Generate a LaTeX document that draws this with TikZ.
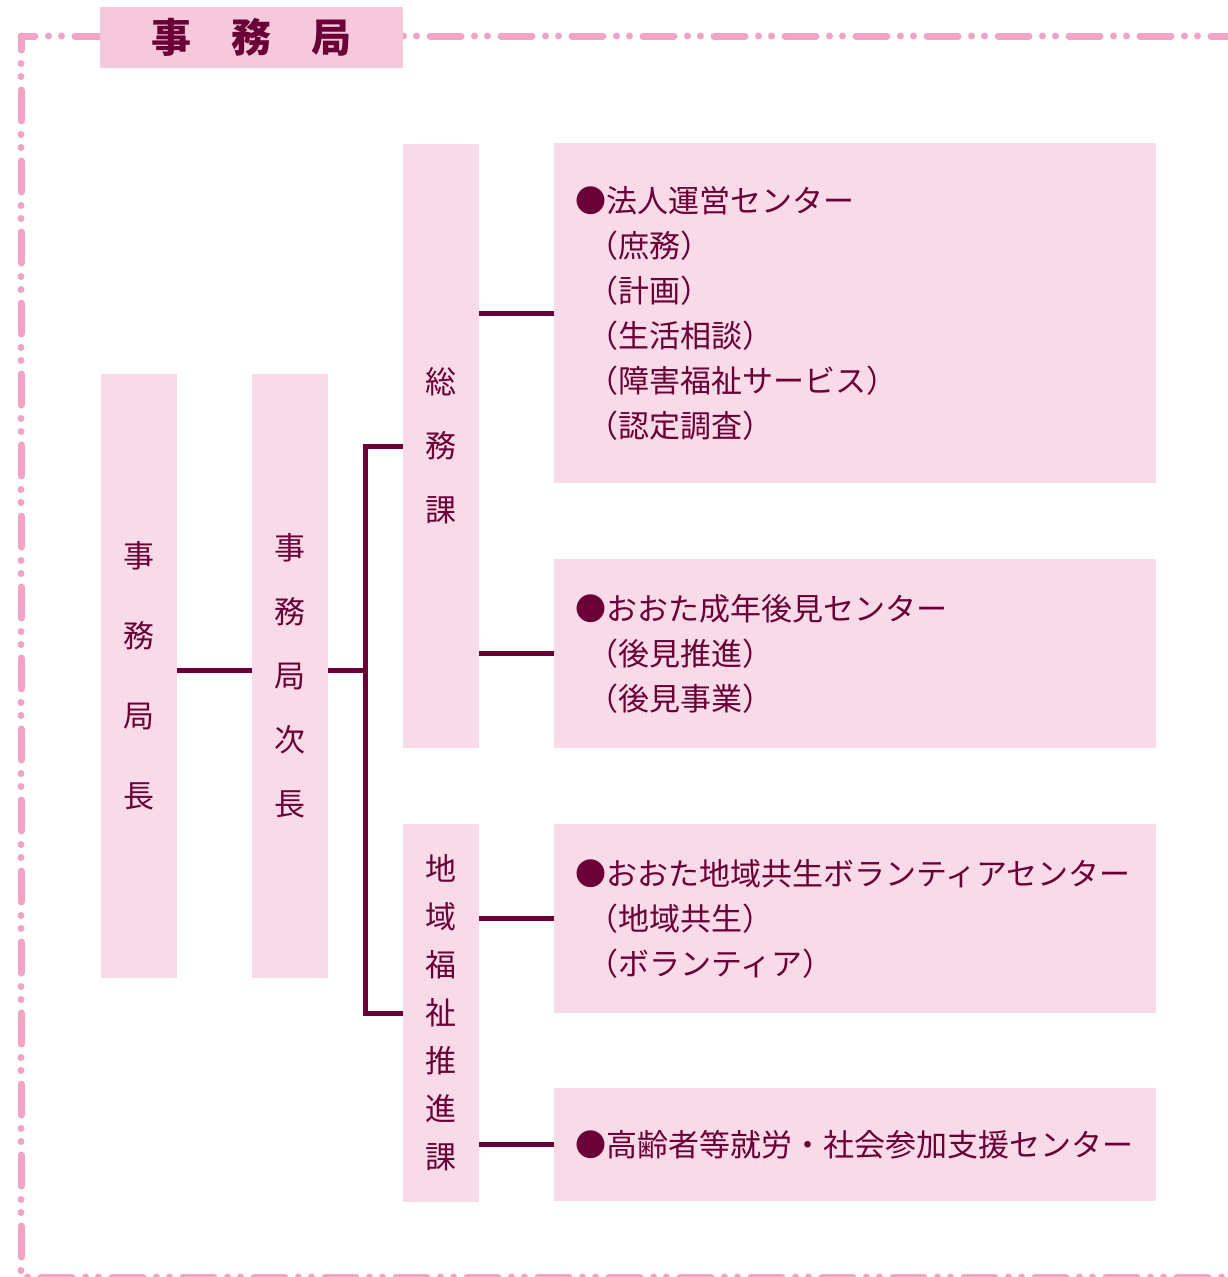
\documentclass[tikz,border=0pt]{standalone}
\usepackage{fontspec}
\setmainfont{Noto Sans CJK JP}
\definecolor{ink}{HTML}{6A0035}
\definecolor{usupink}{HTML}{F9DAE9}
\definecolor{koipink}{HTML}{F5C8DC}
\definecolor{tensen}{HTML}{F2A3C6}
\newcommand{\ind}{\hspace*{12pt}}
\tikzset{
  tate/.style={fill=usupink,text=ink,minimum width=76pt,minimum height=#1,inner sep=0pt,align=center},
  waku/.style={fill=usupink,text=ink,text width=560pt,inner xsep=21pt,inner ysep=0pt,align=left,minimum height=#1,font=\fontsize{31}{45}\selectfont},
  sen/.style={draw=ink,line width=5pt},
  kakomi/.style={draw=tensen,line width=7pt,line cap=round,dash pattern=on 31pt off 13.5pt on 0pt off 13pt on 0pt off 13.5pt,dash phase=17pt}
}
\begin{document}
\begin{tikzpicture}[x=1pt,y=-1pt]
\useasboundingbox (0,0) rectangle (1227,1277);
% outer frame
\draw[kakomi] (21,36) -- (1245,36);
\draw[kakomi] (21,36) -- (21,1277) -- (1245,1277);
\node[fill=koipink,text=ink,minimum width=303pt,minimum height=61pt,inner sep=0pt,font=\fontsize{40}{40}\selectfont\bfseries] (title) at (251.5,37.5) {事　務　局};
% vertical boxes
\node[tate=604pt,font=\fontsize{31}{80}\selectfont] (kyokucho) at (139,676) {事\\務\\局\\長};
\node[tate=604pt,font=\fontsize{31}{64}\selectfont] (jicho) at (290,676) {事\\務\\局\\次\\長};
\node[tate=604pt,font=\fontsize{31}{64}\selectfont] (somu) at (441,446) {総\\務\\課};
\node[tate=378pt,font=\fontsize{31}{48}\selectfont] (chiiki) at (441,1013) {地\\域\\福\\祉\\推\\進\\課};
% centers
\node[waku=340pt] (hojin) at (855,313) {●法人運営センター\\\ind（庶務）\\\ind（計画）\\\ind（生活相談）\\\ind（障害福祉サービス）\\\ind（認定調査）};
\node[waku=189pt] (kouken) at (855,653.5) {●おおた成年後見センター\\\ind（後見推進）\\\ind（後見事業）};
\node[waku=189pt] (kyosei) at (855,918.5) {●おおた地域共生ボランティアセンター\\\ind（地域共生）\\\ind（ボランティア）};
\node[waku=113pt] (shuro) at (855,1144.5) {●高齢者等就労・社会参加支援センター};
% lines
\coordinate (bunki) at (365,670);
\draw[sen] (kyokucho.east |- bunki) -- (jicho.west |- bunki);
\draw[sen] (jicho.east |- bunki) -- (bunki);
\draw[sen] (somu.west) -- (somu.west -| bunki) -- (chiiki.west -| bunki) -- (chiiki.west);
\foreach \ka/\ce in {somu/hojin,somu/kouken,chiiki/kyosei,chiiki/shuro}
  \draw[sen] (\ce.west) -- (\ce.west -| \ka.east);
\end{tikzpicture}
\end{document}
